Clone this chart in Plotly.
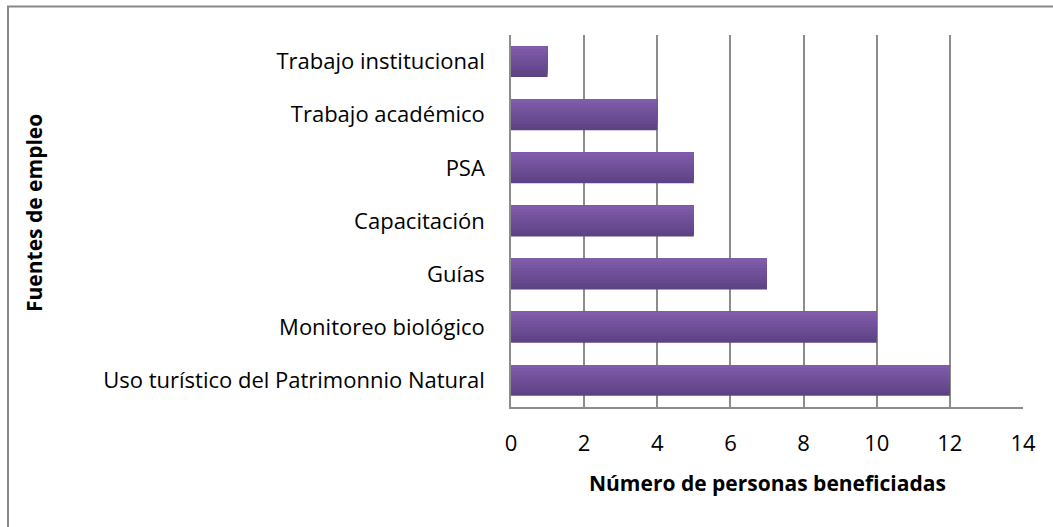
import plotly.graph_objects as go

categories = [
    "Uso turístico del Patrimonnio Natural",
    "Monitoreo biológico",
    "Guías",
    "Capacitación",
    "PSA",
    "Trabajo académico",
    "Trabajo institucional",
]
values = [12, 10, 7, 5, 5, 4, 1]
x_ticks = [0, 2, 4, 6, 8, 10, 12, 14]

FONT = "'Open Sans', Lato, sans-serif"

W, H = 1053, 527
L, T = 511, 35
PW, PH = 512, 372

fig = go.Figure()

# Bars drawn as overlapping horizontal strips to mimic a vertical gradient
n_strips = 10
bar_w = 0.58
top_rgb = (128, 92, 171)
bot_rgb = (93, 66, 132)
sw = bar_w / n_strips
for i in range(n_strips):
    t = i / (n_strips - 1)  # 0 bottom, 1 top
    r = round(bot_rgb[0] + (top_rgb[0] - bot_rgb[0]) * t)
    g = round(bot_rgb[1] + (top_rgb[1] - bot_rgb[1]) * t)
    b = round(bot_rgb[2] + (top_rgb[2] - bot_rgb[2]) * t)
    off = -bar_w / 2 + i * sw
    wid = bar_w / 2 - off
    fig.add_trace(go.Bar(
        y=categories, x=values, orientation="h",
        width=wid, offset=off,
        marker=dict(color=f"rgb({r},{g},{b})", line=dict(width=0)),
        showlegend=False, hoverinfo="x+y",
    ))

fig.update_layout(
    width=W, height=H,
    margin=dict(l=L, r=W - L - PW, t=T, b=H - T - PH, autoexpand=False),
    paper_bgcolor="white", plot_bgcolor="white",
    barmode="overlay",
    font=dict(family=FONT, size=22, color="black"),
    xaxis=dict(
        range=[0, 14], tickvals=x_ticks, ticktext=[str(v) for v in x_ticks],
        showgrid=True, gridcolor="#8c8c8c", gridwidth=1.5,
        showline=True, linecolor="#8c8c8c", linewidth=1.5,
        ticks="", ticklabelstandoff=16, zeroline=False,
        tickfont=dict(size=22),
    ),
    yaxis=dict(
        type="category", categoryorder="array", categoryarray=categories,
        range=[-0.5, len(categories) - 0.5],
        showgrid=False, showline=True, linecolor="#8c8c8c", linewidth=1.5,
        ticks="", ticklabelstandoff=20, tickfont=dict(size=22),
    ),
    shapes=[dict(
        type="rect", xref="paper", yref="paper",
        x0=(8 - L) / PW, x1=1.2, y0=-0.5, y1=1 + (T - 6.5) / PH,
        line=dict(color="#888888", width=2), layer="below",
    )],
    annotations=[
        dict(text="<b>Número de personas beneficiadas</b>", xref="paper", yref="paper",
             x=0.5, y=-(483 - 407) / PH, xanchor="center", yanchor="middle",
             showarrow=False, font=dict(size=21)),
        dict(text="<b>Fuentes de empleo</b>", xref="paper", yref="paper",
             x=(34 - L) / PW, y=1 - (213 - T) / PH, xanchor="center", yanchor="middle",
             textangle=-90, showarrow=False, font=dict(size=21)),
    ],
)

fig.write_html(
    "out.html",
    config={"displayModeBar": False},
    post_script="document.body.style.margin='0px';document.body.style.padding='0px';",
)
